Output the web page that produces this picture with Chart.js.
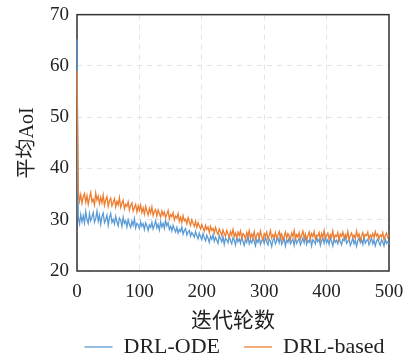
<!DOCTYPE html>
<html>
<head>
<meta charset="utf-8">
<script src="https://cdn.jsdelivr.net/npm/chart.js@4.4.0/dist/chart.umd.min.js"></script>
<style>
  html, body { margin: 0; padding: 0; background: #fff; }
  #wrap { width: 407px; height: 361px; }
</style>
</head>
<body>
<div id="wrap"><canvas id="myChart"></canvas></div>
<script>
// iteration step between stored samples
const step = 2;

const drlOde = [
  65.2, 30.4, 29.2, 31.0, 29.6, 30.8, 29.4, 31.6, 30.0, 29.3,
  31.2, 29.8, 30.5, 31.4, 29.5, 30.2, 31.7, 29.7, 30.9, 29.1,
  30.6, 31.3, 29.4, 30.0, 30.9, 28.9, 30.4, 31.2, 29.5, 30.1,
  29.2, 30.7, 29.6, 28.8, 30.3, 29.9, 28.7, 30.5, 29.3, 29.8,
  28.6, 30.0, 29.1, 28.5, 29.7, 28.9, 30.2, 28.4, 29.3, 29.0,
  28.3, 29.6, 28.7, 29.2, 28.1, 29.4, 28.8, 27.9, 29.0, 28.5,
  29.5, 28.2, 28.9, 29.8, 28.4, 29.1, 28.0, 29.6, 28.6, 29.3,
  28.3, 29.9, 28.8, 29.4, 28.1, 28.7, 27.8, 28.9, 28.2, 27.6,
  28.5, 27.4, 28.1, 27.7, 28.6, 27.2, 27.9, 28.3, 27.0, 27.6,
  27.9, 26.8, 27.5, 27.1, 26.6, 27.7, 26.9, 26.3, 27.4, 26.7,
  26.1, 27.3, 26.5, 25.9, 27.0, 26.4, 25.6, 26.8, 26.2, 27.1,
  25.8, 26.6, 26.0, 25.4, 26.9, 26.3, 25.7, 26.7, 25.2, 26.4,
  26.1, 25.5, 26.8, 25.9, 25.3, 26.5, 26.0, 25.1, 26.6, 25.7,
  26.3, 25.4, 26.7, 25.8, 25.0, 26.2, 25.6, 26.9, 25.3, 26.0,
  25.5, 26.4, 25.8, 24.9, 26.1, 25.6, 26.6, 25.2, 25.9, 26.3,
  25.4, 26.7, 25.7, 25.1, 26.2, 25.8, 24.8, 26.0, 26.5, 25.3,
  25.9, 26.4, 25.5, 26.8, 25.2, 25.7, 26.3, 24.9, 26.1, 25.6,
  26.5, 25.3, 25.8, 26.2, 25.0, 26.6, 25.4, 25.9, 26.3, 25.1,
  25.7, 26.4, 25.5, 26.9, 25.2, 26.0, 25.6, 26.5, 24.9, 26.1,
  25.8, 25.3, 26.6, 25.7, 26.2, 25.0, 25.9, 26.4, 25.4, 26.7,
  25.5, 26.1, 25.2, 26.5, 25.8, 24.9, 26.3, 25.6, 26.0, 25.3,
  26.6, 25.7, 25.1, 26.2, 25.9, 26.8, 25.4, 25.8, 26.3, 25.0,
  25.6, 26.5, 25.3, 26.0, 24.8, 25.9, 26.4, 25.5, 26.1, 25.2,
  26.7, 25.4, 25.9, 26.2, 25.1, 25.7, 26.5, 25.3, 26.0, 24.9,
  25.8, 26.3, 25.5, 25.0, 26.1, 25.6, 24.9, 26.2, 25.4, 25.7,
  25.3
];

const drlBased = [
  59.0, 35.6, 33.6, 34.9, 33.2, 34.5, 35.1, 33.4, 34.7, 33.0,
  34.3, 35.3, 33.5, 34.0, 32.9, 35.2, 33.8, 34.6, 33.1, 34.4,
  33.3, 34.8, 32.8, 33.9, 34.5, 32.6, 33.7, 34.2, 32.7, 33.4,
  34.1, 32.5, 33.6, 32.9, 34.3, 32.4, 33.2, 33.8, 32.1, 33.0,
  32.6, 33.5, 31.9, 32.8, 33.3, 31.7, 32.4, 33.0, 31.5, 32.7,
  31.8, 32.9, 31.4, 32.3, 31.1, 32.6, 31.7, 30.9, 32.2, 31.3,
  32.5, 30.8, 31.6, 32.0, 30.7, 31.9, 31.2, 30.5, 31.7, 30.9,
  31.5, 30.4, 31.1, 31.8, 30.2, 31.0, 30.6, 31.4, 29.9, 30.7,
  30.3, 31.2, 29.7, 30.5, 29.5, 30.8, 29.8, 30.1, 29.2, 30.4,
  29.6, 28.9, 30.0, 29.3, 28.7, 29.7, 28.5, 29.4, 28.8, 28.2,
  29.1, 28.4, 27.8, 28.9, 28.1, 28.6, 27.5, 28.7, 27.9, 28.3,
  27.4, 28.5, 27.7, 27.1, 28.2, 27.6, 26.9, 28.0, 27.3, 26.8,
  27.9, 27.2, 26.6, 27.7, 27.0, 28.1, 26.7, 27.4, 26.5, 27.6,
  26.9, 27.8, 26.4, 27.3, 27.0, 26.2, 27.5, 26.8, 27.9, 26.3,
  27.2, 26.6, 27.7, 26.1, 27.0, 27.4, 26.5, 27.8, 26.7, 26.0,
  27.3, 26.8, 27.6, 26.2, 26.9, 27.9, 26.4, 27.1, 26.6, 27.5,
  26.3, 27.0, 27.7, 26.5, 27.2, 26.0, 26.8, 27.6, 26.4, 27.3,
  26.9, 26.1, 27.4, 26.7, 27.9, 26.3, 27.1, 26.6, 27.5, 26.2,
  27.0, 27.8, 26.5, 27.2, 26.0, 26.9, 27.6, 26.4, 27.3, 26.7,
  27.7, 26.2, 27.0, 26.8, 27.5, 26.1, 27.3, 26.6, 27.9, 26.4,
  26.9, 27.4, 26.3, 27.1, 26.6, 27.8, 26.2, 27.0, 26.7, 27.5,
  26.0, 27.2, 26.8, 27.6, 26.4, 27.1, 26.5, 27.7, 26.1, 26.9,
  27.4, 26.6, 27.0, 26.3, 27.8, 26.7, 27.2, 26.0, 26.8, 27.5,
  26.4, 27.1, 26.9, 27.6, 26.2, 27.0, 26.6, 27.3, 26.5, 27.7,
  26.8, 27.2, 26.3, 27.0, 26.7, 27.5, 26.1, 26.9, 27.4, 26.6,
  27.1
];

const iterations = drlOde.map((_, i) => i * step);
const xTicks = [0, 100, 200, 300, 400, 500];
const yTicks = [20, 30, 40, 50, 60, 70];

const serif = "'Liberation Serif', 'Noto Sans CJK SC', serif";

// dark frame round the plot area, under the lines
const framePlugin = {
  id: "frame",
  beforeDatasetsDraw(chart) {
    const a = chart.chartArea;
    const ctx = chart.ctx;
    ctx.save();
    ctx.strokeStyle = "#333";
    ctx.lineWidth = 1.5;
    ctx.strokeRect(a.left, a.top, a.right - a.left, a.bottom - a.top);
    ctx.restore();
  },
};

// legend: wide gap between items but a short layout box, moved up under the title
const legendNudge = {
  id: "legendNudge",
  beforeUpdate(chart) {
    const lg = chart.legend;
    if (lg && !lg._nudged) {
      const fit = lg.fit;
      lg.fit = function () { fit.call(this); this.height = 27; };
      lg._nudged = true;
    }
  },
  afterLayout(chart) {
    const lg = chart.legend;
    lg.top -= 22;
    lg.bottom = chart.height;
    lg.height = lg.bottom - lg.top;
    lg.left += 24; lg.right += 24;
  },
};

const data = {
  labels: iterations,
  datasets: [
    {
      label: "DRL-ODE",
      data: drlOde,
      borderColor: "#5B9BD5",
      backgroundColor: "#5B9BD5",
      borderWidth: 1.3,
      pointRadius: 0,
      tension: 0,
      clip: 3,
      order: 2,
    },
    {
      label: "DRL-based",
      data: drlBased,
      borderColor: "#ED7D31",
      backgroundColor: "#ED7D31",
      borderWidth: 1.3,
      pointRadius: 0,
      tension: 0,
      clip: 3,
      order: 1,
    },
  ],
};

const config = {
  type: "line",
  data: data,
  plugins: [framePlugin, legendNudge],
  options: {
    responsive: true,
    maintainAspectRatio: false,
    animation: false,
    layout: { padding: { left: 16, right: 2, top: 0, bottom: 0 } },
    plugins: {
      tooltip: { enabled: false },
      legend: {
        position: "bottom",
        labels: {
          usePointStyle: true,
          pointStyle: "line",
          pointStyleWidth: 28,
          color: "#222",
          font: { family: serif, size: 22 },
          padding: 24,
          sort: (a, b) => a.datasetIndex - b.datasetIndex,
        },
      },
    },
    scales: {
      x: {
        type: "linear",
        min: 0,
        max: 500,
        afterBuildTicks: (axis) => { axis.ticks = xTicks.map((v) => ({ value: v })); },
        afterFit: (axis) => { axis.paddingRight = 18; },
        ticks: { color: "#222", font: { family: serif, size: 19 }, padding: 10, maxRotation: 0 },
        grid: { color: "#e3e3e3", drawTicks: false, lineWidth: 1 },
        border: { display: false, dash: [5, 5] },
        title: {
          display: true,
          text: "迭代轮数",
          color: "#222",
          font: { family: serif, size: 21 },
          padding: { top: -5, bottom: 0 },
        },
      },
      y: {
        min: 20,
        max: 70,
        afterBuildTicks: (axis) => { axis.ticks = yTicks.map((v) => ({ value: v })); },
        ticks: { color: "#222", font: { family: serif, size: 19, lineHeight: 0.7 }, padding: 8 },
        grid: { color: "#e3e3e3", drawTicks: false, lineWidth: 1 },
        border: { display: false, dash: [5, 5] },
        title: {
          display: true,
          text: "平均AoI",
          color: "#222",
          font: { family: serif, size: 20 },
          padding: { top: 0, bottom: 2 },
        },
      },
    },
  },
};

const myChart = new Chart(document.getElementById("myChart"), config);
</script>
</body>
</html>
